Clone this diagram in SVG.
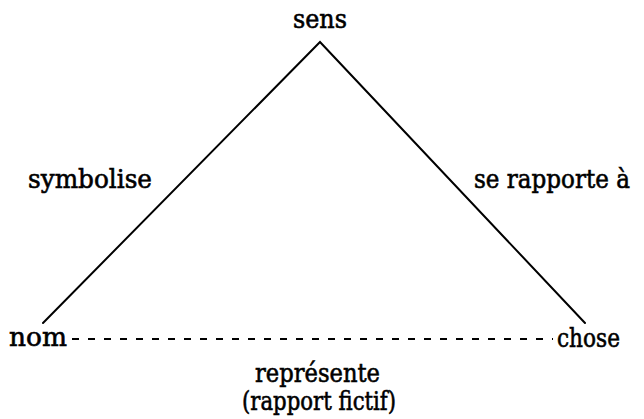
<svg xmlns="http://www.w3.org/2000/svg" width="644" height="419" viewBox="0 0 644 419">
<style>
text{font-family:"DejaVu Serif","Liberation Serif",serif;font-size:26px;fill:#000;stroke:#000;stroke-width:0.6}
.l{stroke:#000;stroke-width:2;fill:none;stroke-linecap:round;stroke-linejoin:miter}
.d{stroke:#000;stroke-width:2;fill:none;stroke-dasharray:7 9}
</style>
<rect width="644" height="419" fill="#fff"/>
<g id="connectors">
<polyline class="l" points="43,323 320,42 585,323"/>
<line class="d" x1="72" y1="339" x2="553" y2="339"/>
</g>
<g id="node-sens"><text x="293" y="28" textLength="54" lengthAdjust="spacingAndGlyphs">sens</text></g>
<g id="label-symbolise"><text x="28" y="188" textLength="124" lengthAdjust="spacingAndGlyphs">symbolise</text></g>
<g id="label-rapporte"><text x="474" y="188" font-size="24" textLength="156" lengthAdjust="spacingAndGlyphs">se rapporte à</text></g>
<g id="node-nom"><text x="9" y="346" textLength="58" lengthAdjust="spacingAndGlyphs">nom</text></g>
<g id="node-chose"><text x="557" y="347" textLength="63" lengthAdjust="spacingAndGlyphs">chose</text></g>
<g id="label-represente">
<text x="255" y="382" textLength="125" lengthAdjust="spacingAndGlyphs">représente</text>
<text x="242" y="410" textLength="154" lengthAdjust="spacingAndGlyphs">(rapport fictif)</text>
</g>
</svg>
